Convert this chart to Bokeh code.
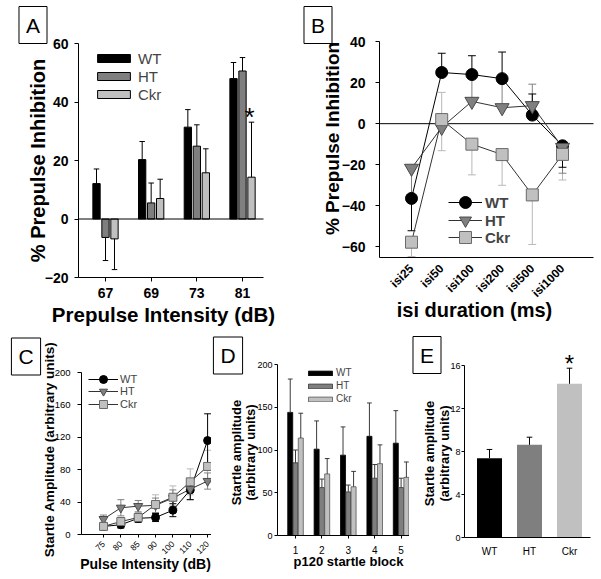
import math
import numpy as np
from bokeh.plotting import figure
from bokeh.models import Range1d, FixedTicker, Label, Legend, LegendItem
from bokeh.layouts import column, row
from bokeh.embed import file_html
from bokeh.resources import INLINE

FONT = "Liberation Sans"
C_WT, C_HT, C_CKR = "#000000", "#7f7f7f", "#c0c0c0"

# ---------------- data ----------------
# Panel A: % prepulse inhibition by prepulse intensity
a_intensity = ["67", "69", "73", "81"]
a_wt = [12.1, 20.3, 31.4, 48.0]
a_ht = [-6.3, 5.5, 24.9, 50.6]
a_ckr = [-6.8, 7.0, 15.8, 14.3]
a_wt_err = [5.0, 6.2, 6.0, 5.5]
a_ht_err = [7.9, 6.8, 7.3, 4.6]
a_ckr_err = [10.5, 6.6, 8.2, 18.8]
a_yticks = [-20, 0, 20, 40, 60]

# Panel B: % prepulse inhibition by isi duration
b_isi = ["isi25", "isi50", "isi100", "isi200", "isi500", "isi1000"]
b_wt = [-36.5, 25.0, 24.0, 22.0, 4.2, -10.8]
b_ht = [-21.8, -1.8, 10.9, 7.8, 8.8, -11.6]
b_ckr = [-57.9, 2.0, -10.0, -15.1, -34.8, -15.0]
b_wt_up = [0, 9.4, 9.2, 13.0, 10.3, 0]
b_wt_dn = [15.8, 0, 0, 0, 0, 10.5]
b_ht_up = [0, 0, 12.6, 12.5, 10.5, 0]
b_ht_dn = [15.0, 0, 0, 0, 0, 12.6]
b_ckr_up = [0, 13.3, 0, 0, 0, 0]
b_ckr_dn = [7.0, 15.2, 15.0, 15.0, 24.2, 12.5]
b_yticks = [-60, -40, -20, 0, 20, 40]

# Panel C: startle amplitude by pulse intensity
c_pulse = ["75", "80", "85", "90", "100", "110", "120"]
c_wt = [10, 12, 20, 21, 30, 55, 116]
c_ht = [19, 33, 35, 36, 45, 56, 66]
c_ckr = [10, 16, 21, 37, 46, 65, 84]
c_wt_err = [4, 4, 5, 5, 8, 12, 33]
c_ht_err = [5, 10, 7, 9, 10, 13, 10]
c_ckr_err = [5, 5, 6, 12, 14, 16, 20]
c_yticks = [0, 40, 80, 120, 160, 200]

# Panel D: startle amplitude by p120 block
d_block = ["1", "2", "3", "4", "5"]
d_wt = [144, 101, 94, 116, 108]
d_ht = [85, 56, 51, 67, 56]
d_ckr = [114, 72, 57, 84, 68]
d_wt_err = [39, 33, 33, 39, 38]
d_ht_err = [15, 10, 8, 16, 11]
d_ckr_err = [29, 18, 18, 22, 18]
d_yticks = [0, 50, 100, 150, 200]

# Panel E: startle amplitude by genotype
e_groups = ["WT", "HT", "Ckr"]
e_vals = [7.38, 8.62, 14.3]
e_err = [0.81, 0.71, 1.45]
e_yticks = [0, 4, 8, 12, 16]


# ---------------- helpers ----------------
def panel(box, xmap, ymap):
    """box = (left, top, width, height) in page px; maps = (value, px, px_per_unit)."""
    bx, by, w, h = box
    xv, xp, kx = xmap
    yv, yp, ky = ymap
    X = lambda px: xv + (px - xp) / kx
    Y = lambda py: yv - (py - yp) / ky
    p = figure(width=w, height=h, x_range=Range1d(X(bx), X(bx + w)),
               y_range=Range1d(Y(by + h), Y(by)), output_backend="svg",
               toolbar_location=None, min_border_left=0, min_border_right=0,
               min_border_top=0, min_border_bottom=0)
    p.title.visible = False
    p.xgrid.visible = False
    p.ygrid.visible = False
    p.outline_line_color = None
    p.background_fill_color = "white"
    p.border_fill_color = "white"
    return p, X, Y


def style_axis(ax, loc, bounds, ticks, labels=None, size="12px", bold=False, tick_out=4,
               standoff=5, orient=None):
    ax.fixed_location = loc
    ax.bounds = bounds
    ax.ticker = FixedTicker(ticks=list(ticks))
    if labels is not None:
        ax.major_label_overrides = {int(t): str(l) for t, l in zip(ticks, labels)}
    ax.major_label_text_font = FONT
    ax.major_label_text_font_size = size
    ax.major_label_text_font_style = "bold" if bold else "normal"
    ax.major_label_text_color = "black"
    ax.axis_line_color = "black"
    ax.axis_line_width = 1
    ax.minor_tick_line_color = None
    ax.major_tick_in = 0
    ax.major_tick_out = tick_out
    ax.major_tick_line_color = None if tick_out == 0 else "black"
    ax.major_label_standoff = standoff
    if orient is not None:
        ax.major_label_orientation = orient


def errbars(p, x, base, up, dn, cw, color, width=1):
    x = np.asarray(x, float)
    base = np.asarray(base, float)
    for e, sgn in ((np.asarray(up, float), 1), (np.asarray(dn, float), -1)):
        m = e > 0
        if not m.any():
            continue
        xs = x[m]
        y0 = base[m]
        y1 = base[m] + sgn * e[m]
        p.segment(xs, y0, xs, y1, line_color=color, line_width=width)
        p.segment(xs - cw, y1, xs + cw, y1, line_color=color, line_width=width)


def text(p, x, y, s, size, bold=False, angle=0.0, align="center", baseline="middle", **kw):
    p.add_layout(Label(x=x, y=y, text=s, text_font=FONT, text_font_size=size,
                       text_font_style="bold" if bold else "normal", angle=angle,
                       text_align=align, text_baseline=baseline, text_color="black", **kw))


def letter(p, x, y, s):
    p.add_layout(Label(x=x, y=y, text=s, text_font=FONT, text_font_size="21px",
                       text_align="center", text_baseline="middle", text_color="black",
                       border_line_color="black", border_line_width=1,
                       background_fill_color="white", padding=7))


def make_legend(p, items, loc, gw, gh, lh, standoff, fsize, bold=False):
    lg = Legend(items=[LegendItem(label=l, renderers=r) for l, r in items],
                location=loc, glyph_width=gw, glyph_height=gh, label_height=lh,
                label_width=10, spacing=0, label_standoff=standoff,
                padding=0, margin=0, border_line_color=None,
                background_fill_alpha=0, label_text_font=FONT,
                label_text_font_size=fsize,
                label_text_font_style="bold" if bold else "normal")
    p.add_layout(lg)


# ---------------- Panel A ----------------
pA, XA, YA = panel((0, 0, 300, 330), (0, 105, 45.67), (0, 218.5, 2.925))
xa = np.arange(len(a_intensity))
dxa, bwa = 0.197, 0.16
ra = {}
for name, vals, errs, col, off in (("WT", a_wt, a_wt_err, C_WT, -dxa),
                                   ("HT", a_ht, a_ht_err, C_HT, 0.0),
                                   ("Ckr", a_ckr, a_ckr_err, C_CKR, dxa)):
    v = np.array(vals, float)
    e = np.array(errs, float)
    ra[name] = pA.vbar(x=xa + off, top=v, bottom=0, width=bwa, fill_color=col,
                       line_color="black", line_width=1)
    errbars(pA, xa + off, v, np.where(v >= 0, e, 0), np.where(v < 0, e, 0), 0.06, "black")
a_xb = (XA(78), XA(263))
pA.segment(x0=[a_xb[0]], y0=[0], x1=[a_xb[1]], y1=[0], line_color="black", line_width=1)
style_axis(pA.xaxis, min(a_yticks), a_xb, xa, a_intensity, "14px", True, 4, 6)
style_axis(pA.yaxis, a_xb[0], (min(a_yticks), max(a_yticks)), a_yticks, None, "14px", True, 4, 6)
make_legend(pA, [("WT", [ra["WT"]]), ("HT", [ra["HT"]]), ("Ckr", [ra["Ckr"]])],
            (93, 227), 41, 10, 18, 4, "15px")
text(pA, XA(249), YA(116), "*", "26px", False)
text(pA, XA(37.5), YA(160), "% Prepulse Inhibition", "20px", True, angle=math.pi / 2)
text(pA, XA(163), YA(314), "Prepulse Intensity (dB)", "20.5px", True)
letter(pA, XA(32.5), YA(24.5), "A")

# ---------------- Panel B ----------------
pB, XB, YB = panel((300, 0, 300, 330), (0, 411, 30.2), (40, 41.3, 2.047))
xb = np.arange(len(b_isi))
b_xb = (XB(379), XB(593))
b_ybot = YB(257)
pB.segment(x0=[b_xb[0]], y0=[0], x1=[b_xb[1]], y1=[0], line_color="black", line_width=1)
errbars(pB, xb, b_ckr, b_ckr_up, b_ckr_dn, 0.13, "#b8b8b8")
errbars(pB, xb, b_ht, b_ht_up, b_ht_dn, 0.13, "#808080")
errbars(pB, xb, b_wt, b_wt_up, b_wt_dn, 0.13, "black")
lw = pB.line(xb, b_wt, line_color="black", line_width=1)
lh_ = pB.line(xb, b_ht, line_color="#333333", line_width=1)
lc = pB.line(xb, b_ckr, line_color="#333333", line_width=1)
sw = pB.scatter(xb, b_wt, marker="circle", size=12, fill_color="black", line_color="black")
sh = pB.scatter(xb, b_ht, marker="inverted_triangle", size=14, fill_color="#808080",
                line_color="#4a4a4a")
sc = pB.scatter(xb, b_ckr, marker="square", size=12, fill_color="#c0c0c0", line_color="#6a6a6a")
style_axis(pB.xaxis, b_ybot, b_xb, xb, b_isi, "12px", True, 0, 9, orient=math.pi / 4)
style_axis(pB.yaxis, b_xb[0], (b_ybot, max(b_yticks)), b_yticks, None, "14px", True, 4, 10)
for lab, rs, loc in (("WT", [lw, sw], (148, 113)), ("HT", [lh_, sh], (148, 95)),
                     ("Ckr", [lc, sc], (148, 78))):
    make_legend(pB, [(lab, rs)], loc, 34, 30, 30, 3, "15px", True)
text(pB, XB(332), YB(138), "% Prepulse Inhibition", "19px", True, angle=math.pi / 2)
text(pB, XB(474), YB(309), "isi duration (ms)", "20px", True)
letter(pB, XB(317.5), YB(24.5), "B")

# ---------------- Panel C ----------------
pC, XC, YC = panel((0, 330, 211, 248), (0, 103, 17.35), (0, 534, 0.81))
xc = np.arange(len(c_pulse))
c_xb = (XC(81), XC(211))
errbars(pC, xc, c_ckr, c_ckr_err, c_ckr_err, 0.2, "#b8b8b8")
errbars(pC, xc, c_ht, c_ht_err, c_ht_err, 0.2, "#808080")
errbars(pC, xc, c_wt, c_wt_err, c_wt_err, 0.2, "black")
cl_w = pC.line(xc, c_wt, line_color="black", line_width=1)
cl_h = pC.line(xc, c_ht, line_color="#333333", line_width=1)
cl_c = pC.line(xc, c_ckr, line_color="#333333", line_width=1)
cs_w = pC.scatter(xc, c_wt, marker="circle", size=8, fill_color="black", line_color="black")
cs_h = pC.scatter(xc, c_ht, marker="inverted_triangle", size=9, fill_color="#808080",
                  line_color="#4a4a4a")
cs_c = pC.scatter(xc, c_ckr, marker="square", size=8, fill_color="#c0c0c0", line_color="#6a6a6a")
style_axis(pC.xaxis, 0, c_xb, xc, c_pulse, "8.5px", False, 3, 5, orient=math.pi / 4)
style_axis(pC.yaxis, c_xb[0], (0, max(c_yticks)), c_yticks, None, "9.5px", False, 4, 7)
for lab, rs, loc in (("WT", [cl_w, cs_w], (88, 189)), ("HT", [cl_h, cs_h], (88, 177)),
                     ("Ckr", [cl_c, cs_c], (88, 164))):
    make_legend(pC, [(lab, rs)], loc, 30, 20, 20, 2, "11px")
text(pC, XC(49), YC(449), "Startle Amplitude (arbitrary units)", "13.5px", True,
     angle=math.pi / 2)
text(pC, XC(145), YC(563), "Pulse Intensity (dB)", "14px", True)
letter(pC, XC(25.5), YC(356), "C")

# ---------------- Panel D ----------------
pD, XD, YD = panel((211, 330, 198, 248), (1, 295, 26.4), (0, 535, 0.855))
xd = np.arange(1, len(d_block) + 1)
d_xb = (XD(277), XD(409))
dxd, bwd = 0.2, 0.19
rd = {}
for name, vals, errs, col, off, lc_ in (("WT", d_wt, d_wt_err, C_WT, -dxd, "black"),
                                        ("HT", d_ht, d_ht_err, C_HT, 0.0, "#333333"),
                                        ("Ckr", d_ckr, d_ckr_err, C_CKR, dxd, "#555555")):
    rd[name] = pD.vbar(x=xd + off, top=vals, bottom=0, width=bwd, fill_color=col,
                       line_color=lc_, line_width=0.8)
    errbars(pD, xd + off, vals, errs, [0] * len(errs), 0.09, "#3a3a3a")
style_axis(pD.xaxis, 0, d_xb, xd, d_block, "10px", False, 3, 7)
style_axis(pD.yaxis, d_xb[0], (0, max(d_yticks)), d_yticks, None, "9px", False, 3, 2)
make_legend(pD, [("WT", [rd["WT"]]), ("HT", [rd["HT"]]), ("Ckr", [rd["Ckr"]])],
            (94, 173), 30, 6, 13, 1, "10px")
text(pD, XD(243), YD(452), "Startle amplitude\n(arbitrary units)", "13px", True,
     angle=math.pi / 2, text_line_height=0.95)
text(pD, XD(348), YD(560.5), "p120 startle block", "13px", True)
letter(pD, XD(227.5), YD(355), "D")

# ---------------- Panel E ----------------
pE, XE, YE = panel((409, 330, 191, 248), (0, 489, 40.0), (0, 537, 10.75))
xe = np.arange(len(e_groups))
e_xb = (XE(464), XE(590))
pE.vbar(x=xe, top=e_vals, bottom=0, width=0.625, fill_color=[C_WT, C_HT, C_CKR],
        line_color=None)
errbars(pE, xe, e_vals, e_err, [0] * len(e_err), 0.07, "black")
style_axis(pE.xaxis, 0, e_xb, xe, e_groups, "10px", False, 0, 8)
style_axis(pE.yaxis, e_xb[0], (0, max(e_yticks)), e_yticks, None, "9px", False, 3, 1)
text(pE, XE(569), YE(362.5), "*", "24px", False)
text(pE, XE(436.5), YE(453), "Startle amplitude\n(arbitrary units)", "13px", True,
     angle=math.pi / 2, text_line_height=0.95)
letter(pE, XE(426.5), YE(354.5), "E")

layout = column(row(pA, pB), row(pC, pD, pE))
open("out.html", "w").write(file_html(layout, INLINE))
